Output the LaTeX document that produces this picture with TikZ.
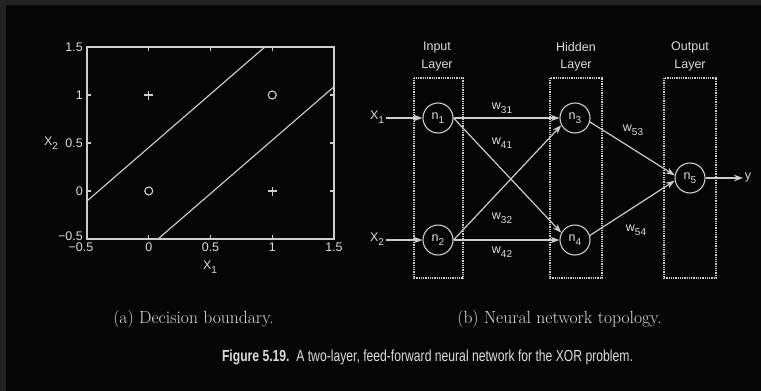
\documentclass[tikz,border=0pt]{standalone}
\usepackage{fontspec}
\usepackage{graphicx}
\newfontfamily\hv{Liberation Sans}
\newfontfamily\capfont[FakeStretch=0.76]{Liberation Sans}
\usetikzlibrary{arrows.meta}
\definecolor{bgc}{HTML}{050505}
\definecolor{stripc}{HTML}{222222}
\definecolor{txt}{HTML}{DCDCDC}
\definecolor{lnc}{HTML}{CCCCCC}
\newcommand\sbs[1]{\raisebox{-0.55ex}{\scalebox{0.8}{#1}}}
\tikzset{
  ln/.style={draw=lnc, line width=1.15pt},
  lbl/.style={text=txt, font=\hv\fontsize{12.5}{14}\selectfont, inner sep=0pt},
  neuron/.style={circle, draw=lnc, line width=1.1pt, minimum size=30pt, inner sep=0pt, text=txt, font=\hv\fontsize{12.5}{14}\selectfont},
  layerbox/.style={draw=lnc, line width=1.4pt, dash pattern=on 1pt off 0.8pt},
  edge/.style={draw=lnc, line width=1.2pt, -{Stealth[length=9pt,width=6.5pt]}},
  capab/.style={text=txt, font=\fontsize{17.6}{20}\selectfont, inner sep=0pt},
}
\begin{document}
\begin{tikzpicture}[x=1pt, y=-1pt]
\useasboundingbox (0,0) rectangle (761,391);
\fill[bgc] (0,0) rectangle (761,391);
\fill[stripc] (0,0) rectangle (761,5);
\fill[stripc] (0,0) rectangle (6,391);

% ---------------- plot ----------------
\begin{scope}[shift={(148.75,191)}, x=123.5pt, y=96pt]
  \draw[ln] (-0.5,-0.5) rectangle (1.5,1.5);
  \foreach \t in {-0.5,0,0.5,1,1.5}{
    \draw[ln] (\t,-0.5) -- ++(0,4pt);
    \draw[ln] (\t,1.5) -- ++(0,-4pt);
    \draw[ln] (-0.5,\t) -- ++(4pt,0);
    \draw[ln] (1.5,\t) -- ++(-4pt,0);
  }
  \foreach \t/\l [count=\i] in {1.5/1.5,1/1,0.5/0.5,0/0}{
    \node[lbl, anchor=east] (yl\i) at ([xshift=-4pt]-0.5,\t) {\l};
  }
  \node[lbl, anchor=east] (yl5) at ([xshift=-4pt,yshift=3pt]-0.5,-0.5) {−0.5};
  \node[lbl, anchor=north] (xl1) at ([xshift=-6pt,yshift=-4pt]-0.5,-0.5) {−0.5};
  \foreach \t/\l [count=\i from 2] in {0/0,0.5/0.5,1/1,1.5/1.5}{
    \node[lbl, anchor=north] (xl\i) at ([yshift=-4pt]\t,-0.5) {\l};
  }
  % decision lines
  \draw[ln] (-0.5,-0.104) -- (0.94,1.5);
  \draw[ln] (0.075,-0.5) -- (1.5,1.086);
  % markers
  \foreach \p in {(0,1),(1,0)}{
    \draw[ln] \p ++(-4.5pt,0) -- ++(9pt,0);
    \draw[ln] \p ++(0,-4.5pt) -- ++(0,9pt);
  }
  \draw[ln] (1,1) circle (4pt);
  \draw[ln] (0,0) circle (4pt);
\end{scope}
\node[lbl] (x2lab) at (51,143) {X\sbs{2}};
\node[lbl] (x1lab) at (210,267) {X\sbs{1}};

% ---------------- network ----------------
\draw[layerbox] (414,78) rectangle (463,278);
\draw[layerbox] (550,78) rectangle (602,278);
\draw[layerbox] (664,78) rectangle (716,278);
\node[lbl] (inl1) at (437,47) {Input};
\node[lbl] (inl2) at (437,65) {Layer};
\node[lbl] (hil1) at (576,47) {Hidden};
\node[lbl] (hil2) at (576,65) {Layer};
\node[lbl] (oul1) at (690,47) {Output};
\node[lbl] (oul2) at (690,65) {Layer};

\node[neuron] (n1) at (438,118) {n\sbs{1}};
\node[neuron] (n2) at (438,240) {n\sbs{2}};
\node[neuron] (n3) at (575,118) {n\sbs{3}};
\node[neuron] (n4) at (575,240) {n\sbs{4}};
\node[neuron] (n5) at (690,178) {n\sbs{5}};

\node[lbl] (X1) at (377,117) {X\sbs{1}};
\node[lbl] (X2) at (377,239) {X\sbs{2}};
\node[lbl] (yout) at (748,177) {y};
\coordinate (x1s) at (386,118);
\coordinate (x2s) at (386,240);
\coordinate (ye) at (743,178);

\draw[edge] (x1s) -- (n1.west);
\draw[edge] (x2s) -- (n2.west);
\draw[edge] (n1.east) -- (n3.west);
\draw[edge] (n2.east) -- (n4.west);
\draw[edge] (n1.east) -- (n4.152);
\draw[edge] (n2.east) -- (n3.208);
\draw[edge] (n3.-15) -- (n5.170);
\draw[edge] (n4.17) -- (n5.190);
\draw[edge] (n5.east) -- (ye);

\node[lbl] (w31) at (502,108) {w\sbs{31}};
\node[lbl] (w41) at (502,143) {w\sbs{41}};
\node[lbl] (w32) at (502,218) {w\sbs{32}};
\node[lbl] (w42) at (502,252) {w\sbs{42}};
\node[lbl] (w53) at (633,130) {w\sbs{53}};
\node[lbl] (w54) at (636,230) {w\sbs{54}};

% ---------------- captions ----------------
\node[capab] (capa) at (193.5,319) {(a) Decision boundary.};
\node[capab] (capb) at (559.5,319) {(b) Neural network topology.};
\node[text=txt, inner sep=0pt, font=\capfont\fontsize{16}{18}\selectfont] (figcap) at (427.5,357)
  {\textbf{Figure 5.19.}\ \ A two-layer, feed-forward neural network for the XOR problem.};
\end{tikzpicture}
\end{document}
